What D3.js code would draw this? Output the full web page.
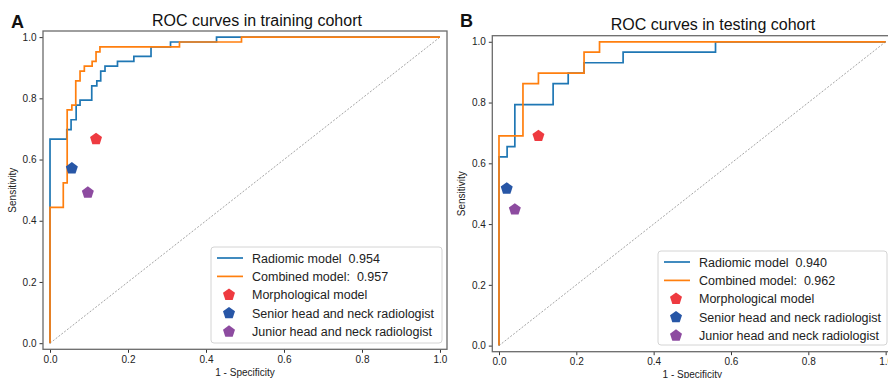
<!DOCTYPE html>
<html>
<head>
<meta charset="utf-8">
<script src="https://cdn.jsdelivr.net/npm/d3@7"></script>
<style>
    body { margin: 0; background: #fff; }
    svg { display: block; font-family: "Liberation Sans", Arial, sans-serif; }
    .frame { fill: none; stroke: #6b6b6b; stroke-width: 1.3; }
    .tick text { font-size: 10px; fill: #222; }
    .tick line { stroke: #333; }
    .legend text { font-size: 12.5px; fill: #222; white-space: pre; }
</style>
</head>
<body>
<svg id="chart" width="888" height="378"></svg>
<script>
// tick values shared by both panels
const tickValues = [0, 0.2, 0.4, 0.6, 0.8, 1.0];

// training cohort (panel A)
const trainRadiomicFpr = [0, 0, 0.043, 0.043, 0.054, 0.054, 0.067, 0.067, 0.077, 0.077, 0.107, 0.107, 0.12, 0.12, 0.13, 0.13, 0.141, 0.141, 0.173, 0.173, 0.215, 0.215, 0.259, 0.259, 0.309, 0.309, 0.427, 0.427, 1];
const trainRadiomicTpr = [0, 0.667, 0.667, 0.698, 0.698, 0.730, 0.730, 0.778, 0.778, 0.794, 0.794, 0.841, 0.841, 0.857, 0.857, 0.889, 0.889, 0.905, 0.905, 0.921, 0.921, 0.937, 0.937, 0.968, 0.968, 0.984, 0.984, 1, 1];
const trainCombinedFpr = [0, 0, 0.034, 0.034, 0.044, 0.044, 0.056, 0.056, 0.066, 0.066, 0.077, 0.077, 0.088, 0.088, 0.108, 0.108, 0.118, 0.118, 0.128, 0.128, 0.332, 0.332, 0.491, 0.491, 1];
const trainCombinedTpr = [0, 0.444, 0.444, 0.524, 0.524, 0.762, 0.762, 0.778, 0.778, 0.857, 0.857, 0.889, 0.889, 0.905, 0.905, 0.921, 0.921, 0.952, 0.952, 0.968, 0.968, 0.984, 0.984, 1, 1];
const trainPointFpr = [0.118, 0.056, 0.097];
const trainPointTpr = [0.667, 0.571, 0.492];

// testing cohort (panel B)
const testRadiomicFpr = [0, 0, 0.021, 0.021, 0.041, 0.041, 0.14, 0.14, 0.179, 0.179, 0.22, 0.22, 0.321, 0.321, 0.56, 0.56, 1];
const testRadiomicTpr = [0, 0.621, 0.621, 0.655, 0.655, 0.793, 0.793, 0.862, 0.862, 0.897, 0.897, 0.931, 0.931, 0.966, 0.966, 1, 1];
const testCombinedFpr = [0, 0, 0.062, 0.062, 0.102, 0.102, 0.22, 0.22, 0.26, 0.26, 1];
const testCombinedTpr = [0, 0.690, 0.690, 0.862, 0.862, 0.897, 0.897, 0.966, 0.966, 1, 1];
const testPointFpr = [0.102, 0.020, 0.041];
const testPointTpr = [0.690, 0.517, 0.448];

// legend entries
const modelNames = ['Radiomic model', 'Combined model:'];
const trainAuc = ['0.954', '0.957'];
const testAuc = ['0.940', '0.962'];
const readerNames = ['Morphological model', 'Senior head and neck radiologist', 'Junior head and neck radiologist'];

const lineColors = ['#1f77b4', '#ff7f0e'];
const pointColors = ['#ee3a40', '#2756a6', '#8d4ba0'];

const svg = d3.select('#chart');

function pentagonPath(r) {
    const pts = [];
    for (let i = 0; i < 5; i++) {
        const a = -Math.PI / 2 + i * 2 * Math.PI / 5;
        pts.push([r * Math.cos(a), r * Math.sin(a)]);
    }
    return 'M' + pts.map(p => p.join(',')).join('L') + 'Z';
}

function drawPanel(opt) {
    const x = d3.scaleLinear().domain(opt.xDomain).range([opt.left, opt.right]);
    const y = d3.scaleLinear().domain(opt.yDomain).range([opt.bottom, opt.top]);
    const g = svg.append('g');

    // diagonal reference
    g.append('line')
        .attr('x1', x(0)).attr('y1', y(0))
        .attr('x2', x(1)).attr('y2', y(1))
        .attr('stroke', '#9a9a9a')
        .attr('stroke-width', 0.9)
        .attr('stroke-dasharray', '2,1.6');

    const line = d3.line().x(d => x(d[0])).y(d => y(d[1]));
    opt.curves.forEach((c, i) => {
        g.append('path')
            .datum(d3.zip(c.fpr, c.tpr))
            .attr('d', line)
            .attr('fill', 'none')
            .attr('stroke', lineColors[i])
            .attr('stroke-width', 1.7);
    });

    g.selectAll('.reader')
        .data(d3.zip(opt.pointFpr, opt.pointTpr))
        .enter().append('path')
        .attr('class', 'reader')
        .attr('d', pentagonPath(6.3))
        .attr('transform', d => `translate(${x(d[0])},${y(d[1])})`)
        .attr('fill', (d, i) => pointColors[i]);

    // axes
    g.append('g')
        .attr('class', 'axis')
        .attr('transform', `translate(0,${opt.bottom})`)
        .call(d3.axisBottom(x).tickValues(tickValues).tickFormat(d3.format('.1f')).tickSize(3.5).tickPadding(3))
        .call(a => a.select('.domain').remove());
    g.append('g')
        .attr('class', 'axis')
        .attr('transform', `translate(${opt.left},0)`)
        .call(d3.axisLeft(y).tickValues(tickValues).tickFormat(d3.format('.1f')).tickSize(3.5).tickPadding(3))
        .call(a => a.select('.domain').remove());

    g.append('rect')
        .attr('class', 'frame')
        .attr('x', opt.left).attr('y', opt.top)
        .attr('width', opt.right - opt.left)
        .attr('height', opt.bottom - opt.top);

    // titles and labels
    g.append('text')
        .attr('x', opt.titleX).attr('y', opt.titleY)
        .attr('text-anchor', 'middle')
        .attr('font-size', 16)
        .attr('fill', '#111')
        .text(opt.title);
    g.append('text')
        .attr('x', opt.letterX).attr('y', opt.letterY)
        .attr('font-size', 18)
        .attr('font-weight', 'bold')
        .attr('fill', '#111')
        .text(opt.letter);
    g.append('text')
        .attr('x', (x(0) + x(1)) / 2).attr('y', opt.xLabelY)
        .attr('text-anchor', 'middle')
        .attr('font-size', 10)
        .attr('fill', '#222')
        .text('1 - Specificity');
    g.append('text')
        .attr('transform', `translate(${opt.yLabelX},${(opt.top + opt.bottom) / 2}) rotate(-90)`)
        .attr('text-anchor', 'middle')
        .attr('font-size', 10)
        .attr('fill', '#222')
        .text('Sensitivity');

    // legend
    const lg = g.append('g').attr('class', 'legend');
    lg.append('rect')
        .attr('x', opt.legend.x).attr('y', opt.legend.y)
        .attr('width', opt.legend.w).attr('height', opt.legend.h)
        .attr('rx', 3)
        .attr('fill', '#fff').attr('fill-opacity', 0.85)
        .attr('stroke', '#d4d4d4').attr('stroke-width', 1);

    const rowY = i => opt.legend.y + 11 + i * 18.4;
    modelNames.forEach((name, i) => {
        lg.append('line')
            .attr('x1', opt.legend.x + 6).attr('x2', opt.legend.x + 32)
            .attr('y1', rowY(i)).attr('y2', rowY(i))
            .attr('stroke', lineColors[i]).attr('stroke-width', 1.7);
        lg.append('text')
            .attr('x', opt.legend.x + 41).attr('y', rowY(i) + 4.5)
            .text(name + '  ' + opt.auc[i]);
    });
    readerNames.forEach((name, i) => {
        const yy = rowY(i + 2);
        lg.append('path')
            .attr('d', pentagonPath(6.3))
            .attr('transform', `translate(${opt.legend.x + 18},${yy})`)
            .attr('fill', pointColors[i]);
        lg.append('text')
            .attr('x', opt.legend.x + 41).attr('y', yy + 4.5)
            .text(name);
    });
}

drawPanel({
    left: 43, right: 447, top: 31, bottom: 349.3,
    xDomain: [-0.018, 1.018], yDomain: [-0.02, 1.02],
    curves: [
        { fpr: trainRadiomicFpr, tpr: trainRadiomicTpr },
        { fpr: trainCombinedFpr, tpr: trainCombinedTpr }
    ],
    pointFpr: trainPointFpr, pointTpr: trainPointTpr,
    title: 'ROC curves in training cohort', titleX: 257, titleY: 26,
    letter: 'A', letterX: 11, letterY: 28,
    xLabelY: 376, yLabelX: 16,
    auc: trainAuc,
    legend: { x: 211, y: 247, w: 231, h: 96 }
});

drawPanel({
    left: 492.3, right: 893, top: 35.7, bottom: 351.7,
    xDomain: [-0.0173, 1.019], yDomain: [-0.02, 1.02],
    curves: [
        { fpr: testRadiomicFpr, tpr: testRadiomicTpr },
        { fpr: testCombinedFpr, tpr: testCombinedTpr }
    ],
    pointFpr: testPointFpr, pointTpr: testPointTpr,
    title: 'ROC curves in testing cohort', titleX: 713, titleY: 30,
    letter: 'B', letterX: 460, letterY: 27,
    xLabelY: 378, yLabelX: 465,
    auc: testAuc,
    legend: { x: 658, y: 251, w: 229, h: 94 }
});
</script>
</body>
</html>
